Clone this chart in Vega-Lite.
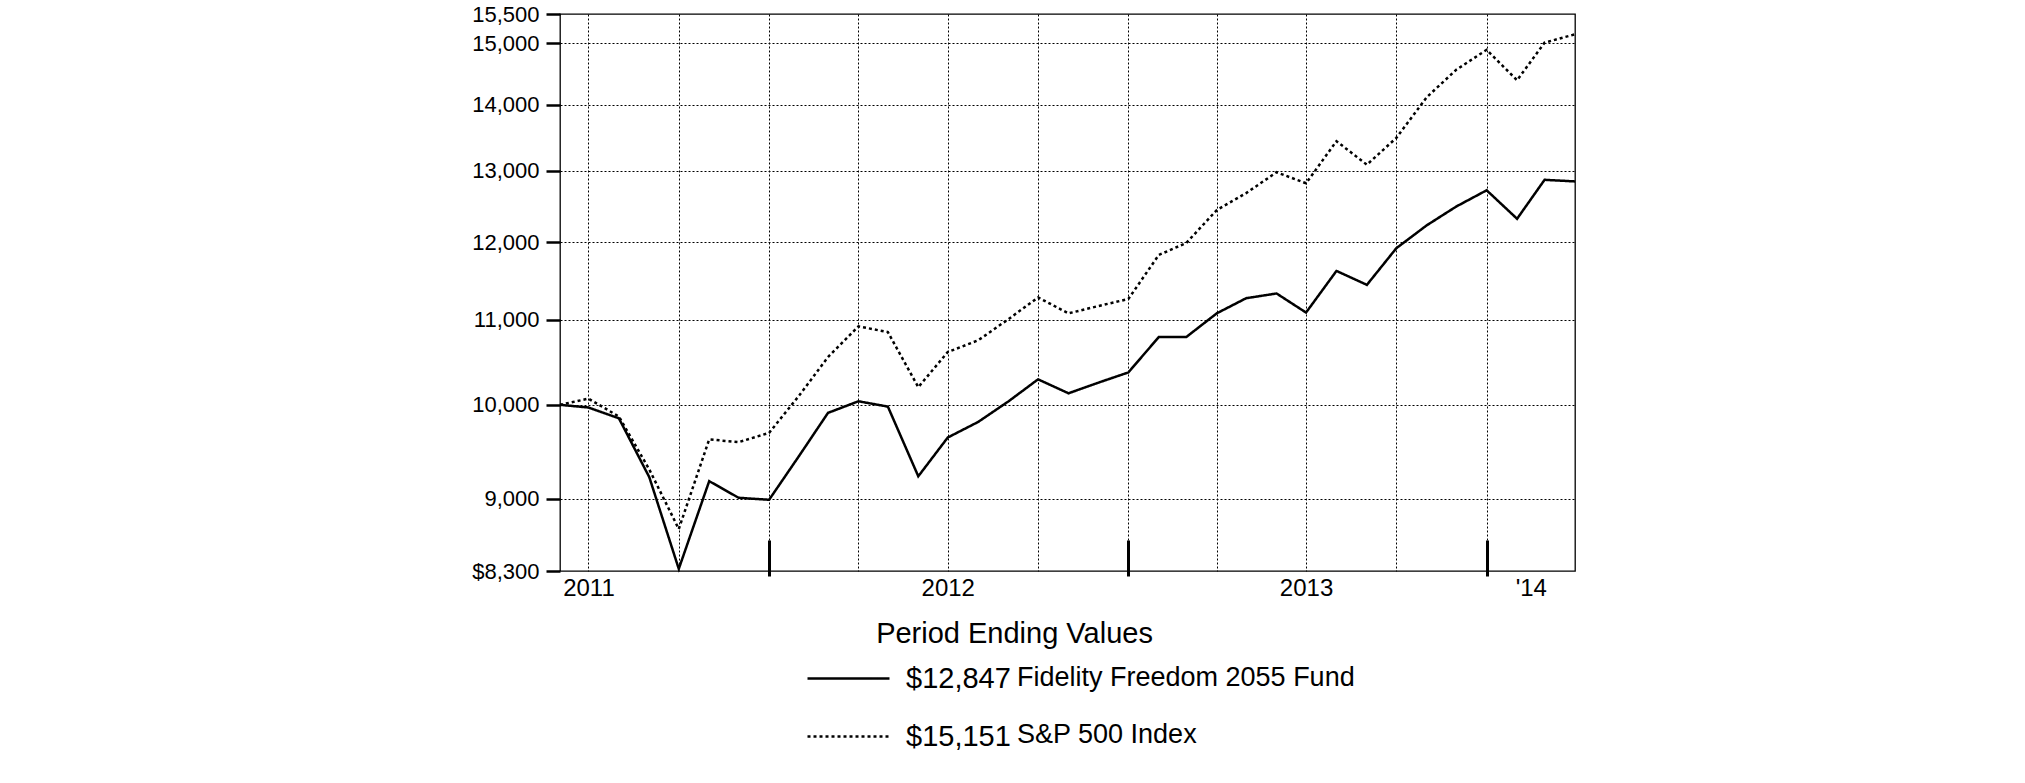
{
  "$schema": "https://vega.github.io/schema/vega-lite/v6.json",
  "width": 1015,
  "height": 557,
  "autosize": {"type": "none"},
  "padding": {"left": 560, "top": 14, "right": 450, "bottom": 212},
  "background": "white",
  "config": {
    "font": "Liberation Sans",
    "view": {"stroke": "black", "strokeWidth": 1.3},
    "axis": {"labelColor": "black", "domain": false, "labelFont": "Liberation Sans", "titleFont": "Liberation Sans"},
    "legend": {"labelFont": "Liberation Sans"}
  },
  "data": {
    "values": [
      {"date": "2011-06-01", "value": 10000, "series": "Fidelity Freedom 2055 Fund", "end": "$12,847"},
      {"date": "2011-06-30", "value": 9970, "series": "Fidelity Freedom 2055 Fund", "end": "$12,847"},
      {"date": "2011-07-31", "value": 9850, "series": "Fidelity Freedom 2055 Fund", "end": "$12,847"},
      {"date": "2011-08-31", "value": 9220, "series": "Fidelity Freedom 2055 Fund", "end": "$12,847"},
      {"date": "2011-09-30", "value": 8320, "series": "Fidelity Freedom 2055 Fund", "end": "$12,847"},
      {"date": "2011-10-31", "value": 9180, "series": "Fidelity Freedom 2055 Fund", "end": "$12,847"},
      {"date": "2011-11-30", "value": 9010, "series": "Fidelity Freedom 2055 Fund", "end": "$12,847"},
      {"date": "2011-12-31", "value": 8990, "series": "Fidelity Freedom 2055 Fund", "end": "$12,847"},
      {"date": "2012-01-31", "value": 9450, "series": "Fidelity Freedom 2055 Fund", "end": "$12,847"},
      {"date": "2012-02-29", "value": 9910, "series": "Fidelity Freedom 2055 Fund", "end": "$12,847"},
      {"date": "2012-03-31", "value": 10040, "series": "Fidelity Freedom 2055 Fund", "end": "$12,847"},
      {"date": "2012-04-30", "value": 9980, "series": "Fidelity Freedom 2055 Fund", "end": "$12,847"},
      {"date": "2012-05-31", "value": 9230, "series": "Fidelity Freedom 2055 Fund", "end": "$12,847"},
      {"date": "2012-06-30", "value": 9640, "series": "Fidelity Freedom 2055 Fund", "end": "$12,847"},
      {"date": "2012-07-31", "value": 9810, "series": "Fidelity Freedom 2055 Fund", "end": "$12,847"},
      {"date": "2012-08-31", "value": 10040, "series": "Fidelity Freedom 2055 Fund", "end": "$12,847"},
      {"date": "2012-09-30", "value": 10290, "series": "Fidelity Freedom 2055 Fund", "end": "$12,847"},
      {"date": "2012-10-31", "value": 10130, "series": "Fidelity Freedom 2055 Fund", "end": "$12,847"},
      {"date": "2012-11-30", "value": 10250, "series": "Fidelity Freedom 2055 Fund", "end": "$12,847"},
      {"date": "2012-12-31", "value": 10370, "series": "Fidelity Freedom 2055 Fund", "end": "$12,847"},
      {"date": "2013-01-31", "value": 10790, "series": "Fidelity Freedom 2055 Fund", "end": "$12,847"},
      {"date": "2013-02-28", "value": 10790, "series": "Fidelity Freedom 2055 Fund", "end": "$12,847"},
      {"date": "2013-03-31", "value": 11080, "series": "Fidelity Freedom 2055 Fund", "end": "$12,847"},
      {"date": "2013-04-30", "value": 11270, "series": "Fidelity Freedom 2055 Fund", "end": "$12,847"},
      {"date": "2013-05-31", "value": 11330, "series": "Fidelity Freedom 2055 Fund", "end": "$12,847"},
      {"date": "2013-06-30", "value": 11090, "series": "Fidelity Freedom 2055 Fund", "end": "$12,847"},
      {"date": "2013-07-31", "value": 11620, "series": "Fidelity Freedom 2055 Fund", "end": "$12,847"},
      {"date": "2013-08-31", "value": 11440, "series": "Fidelity Freedom 2055 Fund", "end": "$12,847"},
      {"date": "2013-09-30", "value": 11920, "series": "Fidelity Freedom 2055 Fund", "end": "$12,847"},
      {"date": "2013-10-31", "value": 12230, "series": "Fidelity Freedom 2055 Fund", "end": "$12,847"},
      {"date": "2013-11-30", "value": 12490, "series": "Fidelity Freedom 2055 Fund", "end": "$12,847"},
      {"date": "2013-12-31", "value": 12720, "series": "Fidelity Freedom 2055 Fund", "end": "$12,847"},
      {"date": "2014-01-31", "value": 12320, "series": "Fidelity Freedom 2055 Fund", "end": "$12,847"},
      {"date": "2014-02-28", "value": 12870, "series": "Fidelity Freedom 2055 Fund", "end": "$12,847"},
      {"date": "2014-03-31", "value": 12847, "series": "Fidelity Freedom 2055 Fund", "end": "$12,847"},
      {"date": "2011-06-01", "value": 10000, "series": "S&P 500 Index", "end": "$15,151"},
      {"date": "2011-06-30", "value": 10070, "series": "S&P 500 Index", "end": "$15,151"},
      {"date": "2011-07-31", "value": 9870, "series": "S&P 500 Index", "end": "$15,151"},
      {"date": "2011-08-31", "value": 9300, "series": "S&P 500 Index", "end": "$15,151"},
      {"date": "2011-09-30", "value": 8700, "series": "S&P 500 Index", "end": "$15,151"},
      {"date": "2011-10-31", "value": 9620, "series": "S&P 500 Index", "end": "$15,151"},
      {"date": "2011-11-30", "value": 9590, "series": "S&P 500 Index", "end": "$15,151"},
      {"date": "2011-12-31", "value": 9690, "series": "S&P 500 Index", "end": "$15,151"},
      {"date": "2012-01-31", "value": 10110, "series": "S&P 500 Index", "end": "$15,151"},
      {"date": "2012-02-29", "value": 10550, "series": "S&P 500 Index", "end": "$15,151"},
      {"date": "2012-03-31", "value": 10920, "series": "S&P 500 Index", "end": "$15,151"},
      {"date": "2012-04-30", "value": 10850, "series": "S&P 500 Index", "end": "$15,151"},
      {"date": "2012-05-31", "value": 10200, "series": "S&P 500 Index", "end": "$15,151"},
      {"date": "2012-06-30", "value": 10610, "series": "S&P 500 Index", "end": "$15,151"},
      {"date": "2012-07-31", "value": 10750, "series": "S&P 500 Index", "end": "$15,151"},
      {"date": "2012-08-31", "value": 11010, "series": "S&P 500 Index", "end": "$15,151"},
      {"date": "2012-09-30", "value": 11280, "series": "S&P 500 Index", "end": "$15,151"},
      {"date": "2012-10-31", "value": 11080, "series": "S&P 500 Index", "end": "$15,151"},
      {"date": "2012-11-30", "value": 11170, "series": "S&P 500 Index", "end": "$15,151"},
      {"date": "2012-12-31", "value": 11260, "series": "S&P 500 Index", "end": "$15,151"},
      {"date": "2013-01-31", "value": 11830, "series": "S&P 500 Index", "end": "$15,151"},
      {"date": "2013-02-28", "value": 11990, "series": "S&P 500 Index", "end": "$15,151"},
      {"date": "2013-03-31", "value": 12440, "series": "S&P 500 Index", "end": "$15,151"},
      {"date": "2013-04-30", "value": 12680, "series": "S&P 500 Index", "end": "$15,151"},
      {"date": "2013-05-31", "value": 12980, "series": "S&P 500 Index", "end": "$15,151"},
      {"date": "2013-06-30", "value": 12820, "series": "S&P 500 Index", "end": "$15,151"},
      {"date": "2013-07-31", "value": 13440, "series": "S&P 500 Index", "end": "$15,151"},
      {"date": "2013-08-31", "value": 13090, "series": "S&P 500 Index", "end": "$15,151"},
      {"date": "2013-09-30", "value": 13490, "series": "S&P 500 Index", "end": "$15,151"},
      {"date": "2013-10-31", "value": 14120, "series": "S&P 500 Index", "end": "$15,151"},
      {"date": "2013-11-30", "value": 14560, "series": "S&P 500 Index", "end": "$15,151"},
      {"date": "2013-12-31", "value": 14890, "series": "S&P 500 Index", "end": "$15,151"},
      {"date": "2014-01-31", "value": 14390, "series": "S&P 500 Index", "end": "$15,151"},
      {"date": "2014-02-28", "value": 15010, "series": "S&P 500 Index", "end": "$15,151"},
      {"date": "2014-03-31", "value": 15151, "series": "S&P 500 Index", "end": "$15,151"}
    ]
  },
  "layer": [
    {
      "mark": {"type": "rule", "opacity": 0},
      "encoding": {
        "x": {
          "field": "date",
          "type": "temporal",
          "scale": {
            "type": "utc",
            "domain": [
              {"year": 2011, "month": 6, "date": 1, "utc": true},
              {"year": 2014, "month": 3, "date": 31, "utc": true}
            ],
            "nice": false
          },
          "axis": {
            "orient": "bottom",
            "title": null,
            "values": [
              {"year": 2011, "month": 12, "date": 31, "utc": true},
              {"year": 2012, "month": 12, "date": 31, "utc": true},
              {"year": 2013, "month": 12, "date": 31, "utc": true}
            ],
            "labels": false,
            "grid": false,
            "domain": false,
            "ticks": true,
            "tickSize": -36,
            "offset": 5,
            "tickWidth": 3,
            "tickColor": "black",
            "zindex": 1
          }
        }
      }
    },
    {
      "mark": {"type": "line", "strokeWidth": 2.5},
      "encoding": {
        "x": {
          "field": "date",
          "type": "temporal",
          "axis": {
            "orient": "bottom",
            "title": "Period Ending Values",
            "titleFontSize": 29,
            "titleFontWeight": "normal",
            "titleColor": "black",
            "titleX": 454,
            "titleAnchor": "start",
            "titleAlign": "center",
            "titlePadding": 19,
            "values": [
              {"year": 2011, "month": 6, "date": 30, "utc": true},
              {"year": 2011, "month": 9, "date": 30, "utc": true},
              {"year": 2011, "month": 12, "date": 31, "utc": true},
              {"year": 2012, "month": 3, "date": 31, "utc": true},
              {"year": 2012, "month": 6, "date": 30, "utc": true},
              {"year": 2012, "month": 9, "date": 30, "utc": true},
              {"year": 2012, "month": 12, "date": 31, "utc": true},
              {"year": 2013, "month": 3, "date": 31, "utc": true},
              {"year": 2013, "month": 6, "date": 30, "utc": true},
              {"year": 2013, "month": 9, "date": 30, "utc": true},
              {"year": 2013, "month": 12, "date": 31, "utc": true},
              {"year": 2014, "month": 2, "date": 14, "utc": true}
            ],
            "labelExpr": "utcmonth(datum.value) == 5 ? utcFormat(datum.value, '%Y') : (utcmonth(datum.value) == 1 ? \"'14\" : '')",
            "ticks": false,
            "tickSize": 0,
            "labelPadding": 5,
            "labelFontSize": 24,
            "labelOverlap": false,
            "labelFlush": false,
            "grid": true,
            "gridColor": "black",
            "gridWidth": 1,
            "gridDash": [2, 2],
            "gridOpacity": {"condition": {"test": "utcmonth(datum.value) == 1", "value": 0}, "value": 1}
          }
        },
        "y": {
          "field": "value",
          "type": "quantitative",
          "scale": {"type": "log", "domain": [8300, 15500], "nice": false},
          "axis": {
            "title": null,
            "values": [8300, 9000, 10000, 11000, 12000, 13000, 14000, 15000, 15500],
            "labelExpr": "datum.value == 8300 ? '$8,300' : format(datum.value, ',')",
            "tickSize": 14,
            "tickWidth": 2.5,
            "tickColor": "black",
            "labelFontSize": 22,
            "labelPadding": 7,
            "labelOverlap": false,
            "labelFlush": false,
            "grid": true,
            "gridColor": "black",
            "gridWidth": 1,
            "gridDash": [2, 2],
            "gridOpacity": {"condition": {"test": "datum.value == 8300 || datum.value == 15500", "value": 0}, "value": 1}
          }
        },
        "strokeDash": {
          "field": "end",
          "type": "nominal",
          "scale": {"domain": ["$12,847", "$15,151"], "range": [[1, 0], [3, 3]]},
          "legend": {
            "orient": "none",
            "legendX": 246,
            "legendY": 622,
            "title": null,
            "symbolType": "stroke",
            "symbolSize": 6724,
            "symbolStrokeWidth": 2.5,
            "symbolStrokeColor": "black",
            "labelFontSize": 29,
            "labelColor": "black",
            "labelOffset": 15,
            "labelLimit": 0,
            "rowPadding": -29,
            "direction": "vertical"
          }
        },
        "color": {
          "field": "series",
          "type": "nominal",
          "scale": {"domain": ["Fidelity Freedom 2055 Fund", "S&P 500 Index"], "range": ["black", "black"]},
          "legend": {
            "orient": "none",
            "legendX": 430,
            "legendY": 650,
            "title": null,
            "symbolSize": 0,
            "symbolOpacity": 0,
            "symbolStrokeWidth": 0,
            "labelOffset": 0,
            "labelFontSize": 27,
            "labelColor": "black",
            "labelLimit": 0,
            "rowPadding": 29,
            "direction": "vertical"
          }
        }
      }
    }
  ],
  "resolve": {"axis": {"x": "independent"}}
}
